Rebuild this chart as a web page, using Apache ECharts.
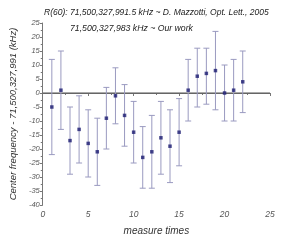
<!DOCTYPE html>
<html><head><meta charset="utf-8">
<script src="https://cdn.jsdelivr.net/npm/echarts@6/dist/echarts.min.js"></script>
<style>html,body{margin:0;padding:0;background:#fff}#c{width:288px;height:243px}</style>
</head><body><div id="c"></div>
<script>
const measureTimes = [1,2,3,4,5,6,7,8,9,10,11,12,13,14,15,16,17,18,19,20,21,22];
const centerValues = [-5,1,-17,-13,-18,-21,-9,-1,-8,-14,-23,-21,-16,-19,-14,1,6,7,8,0,1,4];
const upperValues  = [12,15,-5,-1,-6,-9,2,9,3,-3,-12,-8,-3,-6,-2,12,16,16,22,10,12,15];
const lowerValues  = [-22,-13,-29,-25,-30,-33,-20,-11,-19,-25,-34,-34,-29,-32,-26,-10,-5,-4,-6,-10,-10,-7];
const zeroLine = [[0,0],[25,0]];
const titleLines = ["R(60): 71,500,327,991.5 kHz ~ D. Mazzotti, Opt. Lett., 2005", "71,500,327,983 kHz ~ Our work"];

const chart = echarts.init(document.getElementById('c'), null, {renderer:'canvas'});
const font = 'Liberation Sans, Arial, sans-serif';
const errData = measureTimes.map((x,i)=>[x, lowerValues[i], upperValues[i]]);
const ptData = measureTimes.map((x,i)=>[x, centerValues[i]]);
chart.setOption({
  animation:false,
  grid:{left:38,right:18,top:23,bottom:38,containLabel:false},
  title:[
    {text:titleLines[0],left:44,top:8,padding:0,textStyle:{fontFamily:font,fontStyle:'italic',fontWeight:'normal',fontSize:8.5,color:'#222'}},
    {text:titleLines[1],left:70,top:24,padding:0,textStyle:{fontFamily:font,fontStyle:'italic',fontWeight:'normal',fontSize:8.7,color:'#222'}}
  ],
  xAxis:{type:'value',min:0,max:25,interval:5,
    name:'measure times',nameLocation:'middle',nameGap:21,
    nameTextStyle:{fontFamily:font,fontStyle:'italic',fontSize:10,color:'#333'},
    axisLine:{lineStyle:{color:'#777',width:1}},
    axisTick:{show:true,length:3,lineStyle:{color:'#777'}},
    minorTick:{show:true,splitNumber:2,length:2,lineStyle:{color:'#777'}},
    axisLabel:{fontFamily:font,fontStyle:'italic',fontSize:8.5,color:'#555',margin:5},
    splitLine:{show:false}},
  yAxis:{type:'value',min:-40,max:25,interval:5,
    name:'Center frequency - 71,500,327,991 (kHz)',nameLocation:'middle',nameGap:22,
    nameTextStyle:{fontFamily:font,fontStyle:'italic',fontSize:9.5,color:'#333'},
    axisLine:{show:true,lineStyle:{color:'#777',width:1}},
    axisTick:{show:true,length:3,lineStyle:{color:'#777'}},
    minorTick:{show:true,splitNumber:2,length:2,lineStyle:{color:'#777'}},
    axisLabel:{fontFamily:font,fontStyle:'italic',fontSize:7.5,color:'#555',margin:3},
    splitLine:{show:false}},
  series:[
    {type:'line',data:zeroLine,symbol:'none',z:1,silent:true,
     lineStyle:{color:'#555',width:1}},
    {type:'custom',data:errData,z:2,
     renderItem:function(params,api){
       const x=api.value(0);
       const lo=api.coord([x,api.value(1)]);
       const hi=api.coord([x,api.value(2)]);
       const w=3;
       const st={stroke:'#9a9ac0',lineWidth:1};
       return {type:'group',children:[
         {type:'line',shape:{x1:lo[0],y1:lo[1],x2:hi[0],y2:hi[1]},style:st},
         {type:'line',shape:{x1:lo[0]-w,y1:lo[1],x2:lo[0]+w,y2:lo[1]},style:st},
         {type:'line',shape:{x1:hi[0]-w,y1:hi[1],x2:hi[0]+w,y2:hi[1]},style:st}
       ]};
     }},
    {type:'scatter',data:ptData,symbol:'rect',symbolSize:3.5,z:3,
     itemStyle:{color:'#1a1a70'}}
  ]
});
</script></body></html>
